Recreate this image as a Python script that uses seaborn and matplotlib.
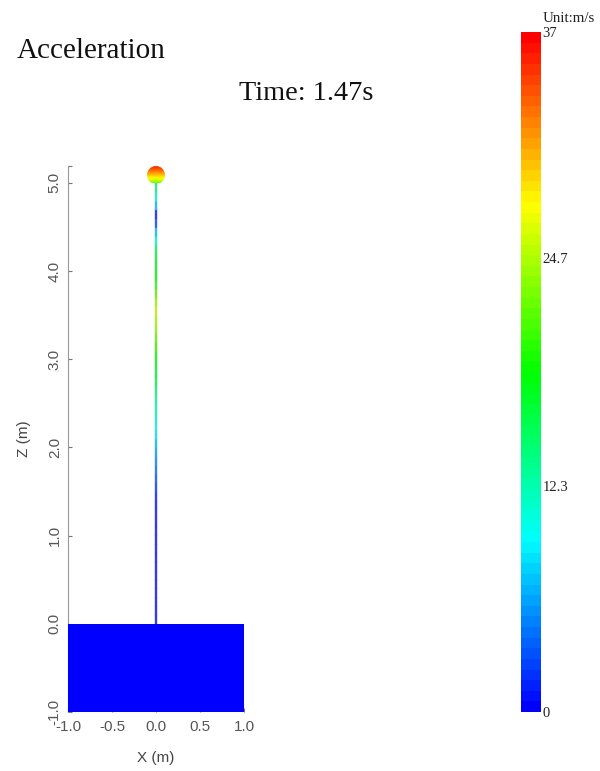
import numpy as np
import seaborn as sns
import matplotlib.pyplot as plt
from matplotlib.cm import ScalarMappable
from matplotlib.colors import LinearSegmentedColormap, Normalize
from matplotlib.patches import Circle

# values
stem_z = [0.0, 0.1, 0.2, 0.3, 0.4, 0.5, 0.6, 0.7, 0.8, 0.9,
          1.0, 1.1, 1.2, 1.3, 1.4, 1.5, 1.6, 1.7, 1.8, 1.9,
          2.0, 2.1, 2.2, 2.3, 2.4, 2.5, 2.6, 2.7, 2.8, 2.9,
          3.0, 3.1, 3.2, 3.3, 3.4, 3.5, 3.6, 3.7, 3.8, 3.9,
          4.0, 4.1, 4.2, 4.3, 4.4, 4.5, 4.6, 4.7, 4.8, 4.9, 5.0]
stem_acc = [0.5, 0.5, 0.5, 0.5, 0.5, 0.5, 0.5, 0.5, 0.5, 0.5,
            0.5, 0.5, 0.5, 0.5, 1, 2, 3, 4, 5, 6,
            7, 8.5, 10, 11, 11.5, 13, 14, 16, 17, 18,
            19, 20.5, 22, 24, 25, 26, 24.5, 22, 20, 18.5,
            18, 17, 15, 11, 7, 2.5, 1, 7, 11, 14, 16]
# ball colours, top row first
ball_acc = [35, 35, 34, 33, 32, 31, 30, 29, 28, 27, 25, 23]
x_ticks = [-1.0, -0.5, 0.0, 0.5, 1.0]
z_ticks = [-1.0, 0.0, 1.0, 2.0, 3.0, 4.0, 5.0, 5.19]
z_labels = ["-1.0", "0.0", "1.0", "2.0", "3.0", "4.0", "5.0", ""]
cbar_ticks = [0, 12.3, 24.7, 37]
cbar_labels = ["0", "12.3", "24.7", "37"]

sns.set_style("ticks")
plt.rcParams["font.family"] = ["Liberation Sans", "DejaVu Sans"]
plt.rcParams["axes.unicode_minus"] = False

stops = ["#0000ff", "#00ffff", "#00ff00", "#ffff00", "#ff0000"]
smooth = LinearSegmentedColormap.from_list("smooth5", stops, N=256)
stepped = LinearSegmentedColormap.from_list("stepped5", stops, N=64)
norm = Normalize(0, 37)

W, H = 600, 771
fig = plt.figure(figsize=(W / 100, H / 100), dpi=100)
ax = fig.add_axes([68 / W, 1 - 712 / H, 176 / W, 546 / H])
cax = fig.add_axes([521 / W, 1 - 712 / H, 20 / W, 680 / H])

ax.fill_between([-1, 1], -1, 0, color="#0000ff", lw=0, zorder=3)
for i in range(len(stem_z) - 1):
    # stem is a bit washed out in the reference
    c = np.array(smooth(norm(stem_acc[i]))[:3]) * 0.72 + 0.2
    line = sns.lineplot(x=[0, 0], y=[stem_z[i], stem_z[i + 1]], color=c, lw=1.7,
                        errorbar=None, estimator=None, sort=False, ax=ax, zorder=2).lines[-1]
    line.set_snap(False)

ball = ax.imshow(np.array(ball_acc).reshape(-1, 1), extent=(-0.11, 0.11, 5.0, 5.2), aspect="auto",
                 cmap=smooth, norm=norm, interpolation="bilinear", zorder=4)
ball.set_clip_path(Circle((156, 771 - 175), 9, transform=None))

ax.set_xlim(-1, 1)
ax.set_ylim(-1, 5.19)
ax.set_xticks(x_ticks)
ax.set_xticklabels(["%.1f" % v for v in x_ticks])
ax.set_yticks(z_ticks)
ax.set_yticklabels(z_labels, rotation=90, va="center")
ax.tick_params(direction="in", length=3, width=0.8, color="#777777", labelcolor="#555555", labelsize=11)
ax.tick_params(axis="x", pad=6)
ax.tick_params(axis="y", pad=4.5)
ax.set_xlabel("X (m)", fontsize=11, color="#444444", labelpad=12)
ax.set_ylabel("Z (m)", fontsize=11, color="#444444", labelpad=12)
sns.despine(ax=ax)
ax.spines["left"].set_color("#999999")
ax.spines["bottom"].set_visible(False)

cb = fig.colorbar(ScalarMappable(norm=norm, cmap=stepped), cax=cax, ticks=cbar_ticks)
cb.outline.set_visible(False)
cb.ax.set_yticklabels(cbar_labels, family="Liberation Serif", fontsize=10.5, color="#222222")
cb.ax.tick_params(length=0, pad=1)

fig.text(17 / W, 1 - 58 / H, "Acceleration", family="Liberation Serif", fontsize=21, color="#111111")
fig.text(239 / W, 1 - 100 / H, "Time: 1.47s", family="Liberation Serif", fontsize=20.3, color="#111111")
fig.text(543 / W, 1 - 22 / H, "Unit:m/s", family="Liberation Serif", fontsize=10.8, color="#222222")

fig.savefig("out.png", dpi=100)
